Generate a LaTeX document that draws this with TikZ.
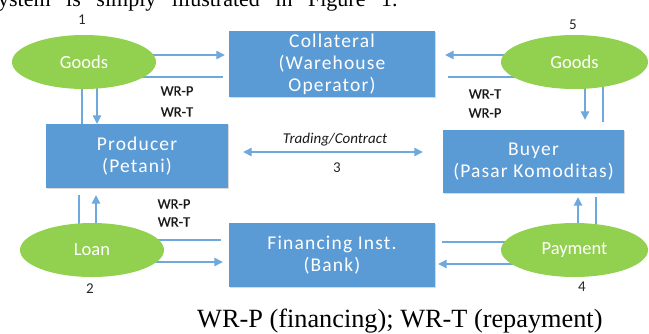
\documentclass[tikz,border=0pt]{standalone}
\usepackage{fontspec}
\setmainfont{Carlito}
\newfontfamily\seriffont{Liberation Serif}
\newfontfamily\boxfont[LetterSpace=6]{Carlito}
\newfontfamily\lblfont[FakeBold=0.8]{Carlito}
\usetikzlibrary{arrows.meta,shapes.geometric,shadows}
\definecolor{boxblue}{HTML}{5B9BD5}
\definecolor{lineblue}{HTML}{6FA8DC}
\definecolor{elgreen}{HTML}{92D050}
\definecolor{labelgray}{HTML}{262626}
\pgfdeclarelayer{bg}
\pgfsetlayers{bg,main}
\tikzset{
  box/.style={rectangle, fill=boxblue, text=white, align=center, inner sep=0pt,
    font=\boxfont\fontsize{19.5}{22}\selectfont,
    drop shadow={shadow xshift=1.2pt, shadow yshift=-1.2pt, opacity=0.25, fill=black!60}},
  oval/.style={ellipse, fill=elgreen, text=white, inner sep=0pt,
    font=\fontsize{18.5}{22}\selectfont},
  wrlabel/.style={text=black!90, inner sep=0pt, font=\lblfont\fontsize{14.5}{17}\selectfont},
  numlabel/.style={text=labelgray, inner sep=0pt, font=\fontsize{15}{18}\selectfont},
  ln/.style={draw=lineblue, line width=1.3pt},
  arr/.style={draw=lineblue, line width=1.3pt, -{Triangle[length=8.5pt,width=8.5pt]}},
  darr/.style={draw=lineblue, line width=1.3pt, {Triangle[length=8.5pt,width=8.5pt]}-{Triangle[length=8.5pt,width=8.5pt]}}
}
\begin{document}
\begin{tikzpicture}[x={(1pt,0pt)}, y={(0pt,-1pt)}]
\path[use as bounding box, clip] (0,0) rectangle (649,333);

% cut-off line of surrounding text
\node[anchor=base west, inner sep=0pt] (toptext) at (-10.6,6)
  {\seriffont\fontsize{22}{26}\selectfont\makebox[408pt][s]{system is simply illustrated in Figure 1.}};

% boxes
\node[box, minimum width=206pt, minimum height=66pt] (coll) at (332,64) {Collateral\\(Warehouse\\Operator)};
\node[box, minimum width=182pt, minimum height=64pt] (prod) at (137,156) {Producer\\(Petani)};
\node[box, minimum width=181pt, minimum height=63pt] (buyer) at (533.5,161.5) {Buyer\\(Pasar Komoditas)};
\node[box, minimum width=206pt, minimum height=64pt] (fin) at (332,255) {Financing Inst.\\(Bank)};

% ellipses
\node[oval, minimum width=144pt, minimum height=54pt] (g1) at (84,62) {Goods};
\node[oval, minimum width=147pt, minimum height=54pt] (g5) at (574.5,62) {Goods};
\node[oval, minimum width=144pt, minimum height=54pt] (loan) at (92,250) {Loan};
\node[oval, minimum width=147pt, minimum height=54pt] (pay) at (574.5,250) {Payment};

% numbers
\node[numlabel] (n1) at (82,20) {1};
\node[numlabel] (n5) at (573,25) {5};
\node[numlabel] (n2) at (90,289) {2};
\node[numlabel] (n4) at (582,287) {4};
\node[numlabel] (n3) at (337,168) {3};

% WR labels
\node[wrlabel] (wa) at (177,91) {WR-P};
\node[wrlabel] (wb) at (177,112) {WR-T};
\node[wrlabel] (wc) at (174,204) {WR-P};
\node[wrlabel] (wd) at (174,222) {WR-T};
\node[wrlabel] (we) at (485,94) {WR-T};
\node[wrlabel] (wf) at (485,113) {WR-P};

\node[inner sep=0pt, font=\itshape\fontsize{15}{18}\selectfont, text=black!90] (trade) at (335,140) {Trading/Contract};

% caption
\node[anchor=base west, inner sep=0pt] (cap) at (197,327)
  {\seriffont\fontsize{26.3}{30}\selectfont WR-P (financing); WR-T (repayment)};

\begin{pgfonlayer}{bg}
% Goods (1) <-> Collateral / Producer
\draw[arr] (g1 |- 0,55) -- ([xshift=-4pt]coll.west |- 0,55);
\draw[ln]  (g1 |- 0,77) -- ([xshift=-6pt]coll.west |- 0,77);
\draw[ln]  (g1 -| 82,0) -- (prod.north -| 82,0);
\draw[arr] (g1 -| 97,0) -- (prod.north -| 97,0);
% Goods (5) <-> Collateral / Buyer
\draw[arr] (g5 |- 0,55) -- ([xshift=10pt]coll.east |- 0,55);
\draw[ln]  (g5 |- 0,77) -- ([xshift=13pt]coll.east |- 0,77);
\draw[arr] (g5 -| 585,0) -- ([yshift=10pt]buyer.north -| 585,0);
\draw[ln]  (g5 -| 603,0) -- ([yshift=8pt]buyer.north -| 603,0);
% Loan <-> Producer / Financing
\draw[ln]  (loan -| 79,0) -- ([yshift=-7pt]prod.south -| 79,0);
\draw[arr] (loan -| 96,0) -- ([yshift=-7pt]prod.south -| 96,0);
\draw[ln]  (loan |- 0,240) -- ([xshift=-8pt]fin.west |- 0,240);
\draw[arr] (loan |- 0,262) -- ([xshift=-6pt]fin.west |- 0,262);
% Payment <-> Financing / Buyer
\draw[ln]  (pay |- 0,242) -- ([xshift=7pt]fin.east |- 0,242);
\draw[arr] (pay |- 0,264) -- ([xshift=3pt]fin.east |- 0,264);
\draw[arr] (pay -| 578,0) -- ([yshift=-4pt]buyer.south -| 578,0);
\draw[ln]  (pay -| 596,0) -- ([yshift=-4pt]buyer.south -| 596,0);
% Trading / Contract
\draw[darr] ([xshift=15pt]prod.east |- 0,152) -- ([xshift=-20pt]buyer.west |- 0,152);
\end{pgfonlayer}
\end{tikzpicture}
\end{document}
